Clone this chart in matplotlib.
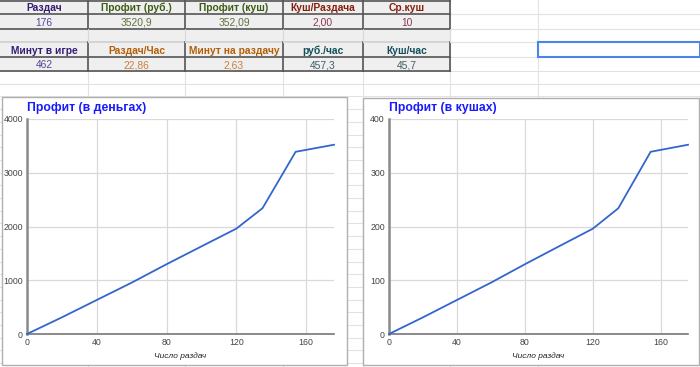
import numpy as np
import matplotlib
matplotlib.use('Agg')
import matplotlib.pyplot as plt
from matplotlib.patches import Rectangle

plt.rcParams['font.family'] = ['Liberation Sans', 'DejaVu Sans']

# таблица сверху
headers1 = ['Раздач', 'Профит (руб.)', 'Профит (куш)', 'Куш/Раздача', 'Ср.куш']
values1 = ['176', '3520,9', '352,09', '2,00', '10']
headers2 = ['Минут в игре', 'Раздач/Час', 'Минут на раздачу', 'руб./час', 'Куш/час']
values2 = ['462', '22,86', '2,63', '457,3', '45,7']
head_colors1 = ['#351c75', '#3d5c14', '#3d5c14', '#85200c', '#85200c']
val_colors1 = ['#5b4596', '#5e7340', '#5e7340', '#8c3a5c', '#8c3a5c']
head_colors2 = ['#351c75', '#b45f06', '#b45f06', '#134f5c', '#134f5c']
val_colors2 = ['#5b4596', '#c9803a', '#c9803a', '#3f5f66', '#3f5f66']

# данные графиков
hands = [0, 20, 40, 60, 80, 100, 120, 135, 154, 176]
profit_rub = [0, 310, 633, 955, 1298, 1630, 1960, 2340, 3390, 3520.9]
profit_kush = [0, 31, 63.3, 95.5, 129.8, 163, 196, 234, 339, 352.09]

W, H = 700, 367
fig = plt.figure(figsize=(7, 3.67), dpi=100)
bg = fig.add_axes([0, 0, 1, 1])
bg.set_xlim(0, W)
bg.set_ylim(H, 0)
bg.axis('off')

# сетка листа
col_edges = [0, 88, 185, 283, 363, 450, 538]
row_edges = [0, 14, 29, 42, 57, 71]
grid_c = '#e2e2e2'
for y in row_edges[1:] + list(np.arange(83.7, H, 12.7)):
    bg.plot([0, W], [y, y], color=grid_c, lw=0.8, zorder=1)
for x in col_edges[1:]:
    bg.plot([x, x], [0, H], color=grid_c, lw=0.8, zorder=1)

# ячейки таблицы
for r in range(5):
    y0, y1 = row_edges[r], row_edges[r + 1]
    bg.add_patch(Rectangle((0, y0), col_edges[5], y1 - y0, fc='#efefef', ec='none', zorder=2))
for y in [14, 29, 42, 57, 71]:
    c = '#cfcfcf' if y == 42 else '#555555'
    bg.plot([0, col_edges[5]], [y, y], color=c, lw=1.2, zorder=3)
bg.plot([0, col_edges[5]], [0.5, 0.5], color='#555555', lw=1.2, zorder=3)
for x in col_edges[1:6]:
    for (a, b) in [(0, 29), (42, 71)]:
        bg.plot([x, x], [a, b], color='#555555', lw=1.2, zorder=3)
    bg.plot([x, x], [29, 42], color='#d8d8d8', lw=0.8, zorder=3)

rows = [(headers1, head_colors1, 'bold', 0), (values1, val_colors1, 'normal', 1),
        (headers2, head_colors2, 'bold', 3), (values2, val_colors2, 'normal', 4)]
for texts, colors, weight, r in rows:
    yc = (row_edges[r] + row_edges[r + 1]) / 2 + 1.2
    for i, t in enumerate(texts):
        xc = (col_edges[i] + col_edges[i + 1]) / 2
        bg.text(xc, yc, t, ha='center', va='center', fontsize=7.4, fontweight=weight,
                color=colors[i], zorder=4)

# выделенная ячейка
bg.add_patch(Rectangle((538, 42), 162, 14.5, fc='none', ec='#4a86e8', lw=1.5, zorder=4))

# рамки графиков
frames = [(2, 97, 345, 268), (363, 98, 336, 267)]
for fx, fy, fw, fh in frames:
    bg.add_patch(Rectangle((fx, fy), fw, fh, fc='white', ec='#b0b0b0', lw=1, zorder=5))


def chart(left, right, ymax, title, yvals):
    top, bottom = 119, 334
    ax = fig.add_axes([left / W, (H - bottom) / H, (right - left) / W, (bottom - top) / H])
    ax.set_zorder(6)
    ax.patch.set_alpha(0)
    ax.plot(hands, yvals, color='#3366cc', lw=1.3, zorder=3, clip_on=False)
    ax.set_xlim(0, 176)
    ax.set_ylim(0, ymax)
    ax.set_xticks([0, 40, 80, 120, 160])
    ax.set_yticks(np.linspace(0, ymax, 5))
    ax.grid(color='#d9d9d9', lw=0.9)
    ax.set_axisbelow(True)
    for s in ['top', 'right']:
        ax.spines[s].set_visible(False)
    ax.spines['left'].set_color('#8a8a8a')
    ax.spines['left'].set_linewidth(1.8)
    ax.spines['bottom'].set_color('#777777')
    ax.spines['bottom'].set_linewidth(1.2)
    ax.tick_params(length=0, labelsize=6.3, labelcolor='#444444', pad=3)
    ax.set_xlabel('Число раздач', fontsize=6, style='italic', color='#222222', labelpad=4)
    bg.text(left, 108, title, ha='left', va='center', fontsize=8.8, fontweight='bold',
            color='#1a1aff', zorder=7)
    return ax


chart(27, 334, 4000, 'Профит (в деньгах)', profit_rub)
chart(389, 688, 400, 'Профит (в кушах)', profit_kush)

fig.savefig('out.png', dpi=100)
